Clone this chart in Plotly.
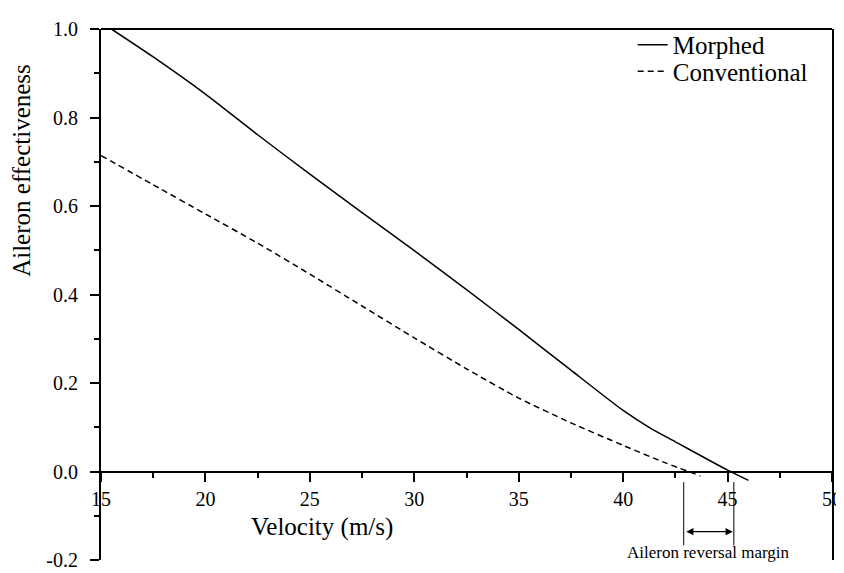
import plotly.graph_objects as go

# ---- data ----
morphed_v = [15.5, 17.5, 20.0, 22.5, 25.0, 27.5, 30.0, 32.5, 35.0, 37.5, 40.0, 41.3, 42.5, 45.0, 46.0]
morphed_e = [1.0, 0.937, 0.853, 0.761, 0.672, 0.585, 0.499, 0.411, 0.321, 0.229, 0.138, 0.098, 0.067, 0.003, -0.02]

conv_v = [15.0, 17.5, 20.0, 22.5, 25.0, 27.5, 30.0, 32.5, 35.0, 37.5, 40.0, 42.0, 43.7]
conv_e = [0.714, 0.648, 0.582, 0.516, 0.446, 0.374, 0.302, 0.232, 0.166, 0.110, 0.059, 0.020, -0.010]

x_ticks = [15, 20, 25, 30, 35, 40, 45, 50]
x_tick_labels = ["15", "20", "25", "30", "35", "40", "45", "50"]
y_ticks = [-0.2, 0.0, 0.2, 0.4, 0.6, 0.8, 1.0]
y_tick_labels = ["-0.2", "0.0", "0.2", "0.4", "0.6", "0.8", "1.0"]

margin_left_v = 42.9
margin_right_v = 45.3

FONT = "'Liberation Serif', 'Times New Roman', serif"

fig = go.Figure()
fig.add_trace(go.Scatter(x=morphed_v, y=morphed_e, mode="lines", name="Morphed", legend="legend",
                         line=dict(color="black", width=1.5, shape="spline", smoothing=0.6)))
fig.add_trace(go.Scatter(x=conv_v, y=conv_e, mode="lines", name="Conventional", legend="legend2",
                         line=dict(color="black", width=1.5, dash="6px,4px", shape="spline", smoothing=0.6)))

legend_common = dict(xanchor="left", yanchor="middle", font=dict(size=25, family=FONT),
                     bgcolor="rgba(0,0,0,0)", itemwidth=30, borderwidth=0)

fig.update_layout(
    width=844, height=573,
    margin=dict(l=93, r=10, t=16, b=11),
    paper_bgcolor="white", plot_bgcolor="white",
    font=dict(family=FONT, color="black", size=20),
    showlegend=True,
    legend=dict(x=0.7274, y=0.970, **legend_common),
    legend2=dict(x=0.7274, y=0.920, **legend_common),
    xaxis=dict(range=[15, 50], anchor="free", position=1/6,
               showline=True, linecolor="black", linewidth=2,
               ticks="outside", ticklen=9, tickwidth=2, tickcolor="black",
               tickvals=x_ticks, ticktext=x_tick_labels,
               minor=dict(dtick=2.5, ticks="outside", ticklen=5, tickwidth=2, tickcolor="black"),
               showgrid=False, zeroline=False,
               tickfont=dict(size=20, family=FONT)),
    yaxis=dict(range=[-0.2, 1.0], showline=True, linecolor="black", linewidth=2, mirror=True,
               ticks="outside", ticklen=9, tickwidth=2, tickcolor="black",
               tickvals=y_ticks, ticktext=y_tick_labels, ticklabelstandoff=8,
               minor=dict(dtick=0.1, ticks="outside", ticklen=5, tickwidth=2, tickcolor="black"),
               showgrid=False, zeroline=False,
               tickfont=dict(size=20, family=FONT)),
)

# top frame line
fig.add_shape(type="line", xref="paper", yref="paper", x0=0, x1=1, y0=1, y1=1,
              line=dict(color="black", width=2))

# axis titles
fig.add_annotation(text="Velocity (m/s)", xref="paper", yref="paper", x=0.302, y=0.062,
                   xanchor="center", yanchor="middle",
                   showarrow=False, font=dict(size=25, family=FONT))
fig.add_annotation(text="Aileron effectiveness", xref="paper", yref="paper", x=-0.108, y=0.733,
                   xanchor="center", yanchor="middle",
                   textangle=-90, showarrow=False, font=dict(size=25, family=FONT))

# reversal margin markers
for xv in (margin_left_v, margin_right_v):
    fig.add_shape(type="line", xref="x", yref="y", x0=xv, x1=xv, y0=-0.024, y1=-0.167,
                  line=dict(color="black", width=1))
fig.add_annotation(x=margin_right_v - 0.05, y=-0.136, ax=margin_left_v + 0.05, ay=-0.136,
                   xref="x", yref="y", axref="x", ayref="y", text="", showarrow=True,
                   arrowhead=2, arrowside="end+start", arrowsize=1.2, arrowwidth=1.2, arrowcolor="black")
fig.add_annotation(text="Aileron reversal margin", x=(margin_left_v + margin_right_v) / 2, y=-0.183,
                   xref="x", yref="y", showarrow=False, font=dict(size=17, family=FONT))

fig.write_html("out.html")
